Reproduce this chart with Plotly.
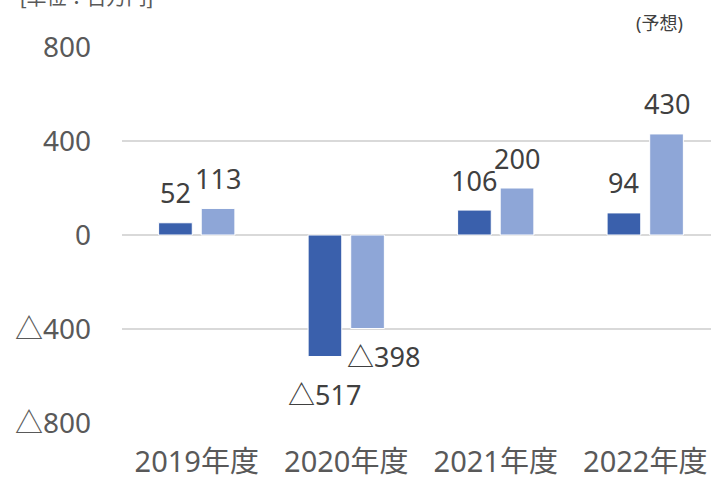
import plotly.graph_objects as go

categories = ["2019年度", "2020年度", "2021年度", "2022年度"]
series_a = [52, -517, 106, 94]      # dark blue
series_b = [113, -398, 200, 430]    # light blue
label_a = ["52", "△517", "106", "94"]
label_b = ["113", "△398", "200", "430"]
tick_vals = [800, 400, 0, -400, -800]
tick_text = ["800", "400", "0", "△400", "△800"]

dark = "#3A60AC"
light = "#8EA6D7"
FONT = "Noto Sans, Noto Sans CJK JP"

fig = go.Figure()
fig.add_trace(go.Bar(x=categories, y=series_a, marker=dict(color=dark, line=dict(color="white", width=1)), hoverinfo="skip"))
fig.add_trace(go.Bar(x=categories, y=series_b, marker=dict(color=light, line=dict(color="white", width=1)), hoverinfo="skip"))

slot_half = 21.3
# per-label style offsets (dx, dy) in pixels
off_a = [(0, 0), (0, -6), (0, 0), (0, 0)]
off_b = [(0, 0), (16, 4), (0, 0), (0, 0)]
for i, c in enumerate(categories):
    for vals, labs, sgn, offs in ((series_a, label_a, -1, off_a), (series_b, label_b, 1, off_b)):
        v = vals[i]
        dx, dy = offs[i]
        fig.add_annotation(x=c, y=v, xref="x", yref="y", text=labs[i], showarrow=False,
                           xshift=sgn * slot_half + dx, yshift=(30 if v >= 0 else -32) + dy,
                           yanchor="middle", xanchor="center",
                           font=dict(family=FONT, size=27, color="#404040"))

fig.add_annotation(x=0, xref="paper", y=1, yref="paper", xshift=-104, yshift=50, text="[単位：百万円]",
                   showarrow=False, xanchor="left", yanchor="middle",
                   font=dict(family=FONT, size=20, color="#595959"))
fig.add_annotation(x=(659 - 122) / 589, xref="paper", y=1, yref="paper", text="(予想)", showarrow=False,
                   yshift=24, xanchor="center", yanchor="middle",
                   font=dict(family=FONT, size=18, color="#404040"))

fig.update_layout(
    width=711, height=483,
    margin=dict(l=122, r=0, t=47, b=60),
    paper_bgcolor="white", plot_bgcolor="white",
    barmode="group", bargap=0.43, bargroupgap=0.21,
    showlegend=False,
    font=dict(family=FONT, color="#595959"),
    xaxis=dict(range=[-0.5, 3.44], showgrid=False, zeroline=False, showline=False,
               tickfont=dict(family=FONT, size=29, color="#595959"), ticks="",
               ticklabelstandoff=19),
    yaxis=dict(range=[-800, 800], tickvals=tick_vals, ticktext=tick_text,
               showgrid=True, gridcolor="#D9D9D9", gridwidth=1.5,
               zeroline=True, zerolinecolor="#D9D9D9", zerolinewidth=1.5, showline=False,
               tickfont=dict(family=FONT, size=28, color="#595959"), ticks="",
               ticklabelstandoff=30),
)
fig.write_html("out.html")
